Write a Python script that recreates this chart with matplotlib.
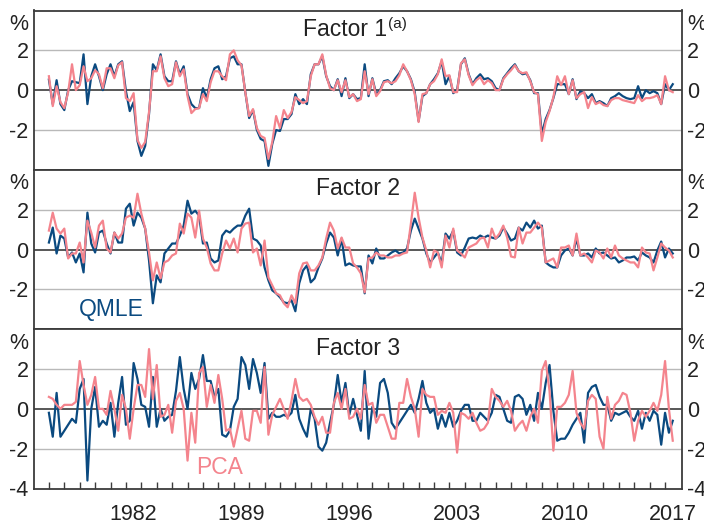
import numpy as np
import matplotlib.pyplot as plt

plt.rcParams['font.family'] = ['Liberation Sans', 'DejaVu Sans']

# quarterly factor estimates, 1977:Q1 to 2017:Q3 (per cent)
f1_qmle = [
    0.53, -0.7, 0.5, -0.7, -1.0, 0.0, 0.45, 0.4, 0.35, 1.8,
    -0.7, 0.7, 1.3, 0.7, 0.0, 0.8, 1.3, 0.7, 1.3, 1.45,
    -0.05, -1.05, -0.6, -2.55, -3.3, -2.8, -1.2, 1.3, 1.0, 1.8,
    0.7, 0.45, 0.45, 1.45, 0.8, 1.2, -0.2, -0.7, -0.9, -0.9,
    0.1, -0.4, 0.55, 1.1, 1.2, 0.55, 0.7, 1.6, 1.7, 1.3,
    1.3, -0.1, -1.4, -1.0, -2.0, -2.45, -2.55, -3.8, -2.7, -2.0,
    -2.05, -1.45, -1.45, -1.2, -0.2, -0.7, -0.45, -0.7, 0.8, 1.3,
    1.3, 1.7, 0.7, 0.2, 0.0, 0.55, -0.3, 0.6, -0.4, -0.2,
    -0.45, -0.4,
    1.3, -0.3, 0.6, -0.2, 0.0, 0.45, 0.5, 0.3, 0.6, 0.85,
    1.2, 0.95, 0.55, -0.1, -1.55, -0.3, -0.15, 0.3, 0.55, 0.85,
    1.45, 0.3, 0.7, -0.15, 0.0, 1.3, 1.6, 0.8, 0.3, 0.6,
    0.8, 0.55, 0.6, 0.45, 0.1, 0.0, 0.6, 0.85, 1.1, 1.3,
    0.95, 0.8, 0.85, 0.5, -0.15, -0.15, -2.2, -1.45, -1.0, -0.4,
    0.3, 0.3, 0.3, -0.2, 0.55, -0.45, -0.05, -0.15, -0.4, -0.2,
    -0.65, -0.55, -0.65, -0.8, -0.4, -0.3, -0.15, -0.3, -0.4, -0.45,
    -0.4, 0.2, -0.4, 0.0, -0.15, -0.05, -0.15, -0.7, 0.3, 0.0,
    0.3]
f1_pca = [
    0.7, -0.8, 0.2, -0.6, -0.9, -0.1, 1.3, 0.0, 0.25, 1.2,
    0.45, 0.6, 1.0, 0.8, 0.1, 1.1, 1.1, 0.6, 1.25, 1.4,
    -0.4, -0.55, -0.15, -2.5, -2.9, -2.6, -1.1, 0.95, 0.95, 1.7,
    0.6, 0.2, 0.3, 1.4, 0.7, 1.05, -0.3, -1.15, -0.95, -0.9,
    -0.2, -0.55, 0.4, 0.95, 0.95, 0.7, 0.5, 1.8, 2.0, 1.5,
    1.25, -0.1, -1.3, -0.95, -1.9, -2.3, -2.4, -3.45, -2.6, -1.3,
    -1.9, -1.0, -1.4, -1.1, -0.35, -0.5, -0.65, -0.55, 0.7, 1.3,
    1.3, 1.8, 0.75, 0.1, 0.0, 0.5, -0.1, 0.5, -0.35, -0.2,
    -0.55, -0.45,
    0.95, -0.2, 0.55, -0.3, -0.05, 0.4, 0.45, 0.35, 0.45, 0.75,
    1.3, 0.95, 0.5, -0.2, -1.6, -0.2, -0.15, 0.3, 0.45, 0.8,
    1.55, 0.7, 0.75, -0.1, -0.1, 1.35, 1.55, 0.75, 0.25, 0.5,
    0.65, 0.3, 0.5, 0.35, 0.0, 0.0, 0.55, 0.8, 1.0, 1.25,
    0.95, 0.85, 0.9, 0.45, -0.1, -0.2, -2.55, -1.6, -1.05, -0.35,
    0.7, 0.25, 0.7, -0.2, 0.5, -0.4, -0.2, -0.1, -0.9, -0.35,
    -0.7, -0.6, -0.75, -0.8, -0.5, -0.4, -0.4, -0.5, -0.55, -0.6,
    -0.65, -0.25, -0.55, -0.4, -0.4, -0.35, -0.25, -0.7, 0.7, 0.0,
    -0.1]

f2_qmle = [
    0.35, 1.1, -0.2, 0.7, 0.55, -0.4, -0.15, -0.65, -0.2, -1.15,
    1.85, 0.3, -0.15, 0.85, 0.95, 0.3, -0.2, 0.85, 0.35, 0.35,
    2.05, 2.3, 1.2, 1.85, 1.6, 1.05, -0.55, -2.7, -1.3, -1.65,
    -0.2, 0.05, 0.3, 0.3, 0.7, 1.2, 2.45, 1.8, 1.95, 1.7,
    0.3, 0.35, -0.45, -0.65, -0.55, 0.7, 0.95, 0.85, 1.05, 1.2,
    1.2, 1.7, 2.05, 0.55, 0.45, 0.2, -0.9, -1.55, -2.05, -2.2,
    -2.4, -2.65, -2.7, -2.55, -3.1, -1.7, -1.05, -0.8, -1.65, -1.45,
    -0.9, -0.45, 0.3, 0.85, 0.6, -0.3, 0.55, -0.8, -0.7, -0.8,
    -0.85, -0.85,
    -2.2, -0.3, -0.7, 0.05, -0.45, -0.45, -0.3, -0.15, -0.05, -0.2,
    -0.15, 0.05, 0.95, 1.55, 1.05, 0.55, -0.2, -0.65, -0.4, -0.15,
    -0.7, 0.8, 0.55, 0.95, -0.15, -0.3, 0.1, 0.55, 0.6, 0.55,
    0.7, 0.6, 0.7, 0.6, 0.55, 0.7, 1.1, 0.8, 0.45, 0.55,
    1.1, 0.95, 1.35, 1.1, 1.45, 1.05, 1.2, -0.65, -0.8, -0.9,
    -0.9, -0.3, -0.05, 0.05, -0.3, 0.55, -0.3, -0.3, -0.2, -0.4,
    0.05, -0.2, -0.15, -0.3, -0.45, -0.4, -0.65, -0.55, -0.4, -0.4,
    -0.35, -0.55, -0.15, -0.3, -0.4, -0.65, -0.05, 0.4, -0.4, 0.05,
    -0.2]
f2_pca = [
    0.95, 1.85, 1.05, 0.8, 1.05, -0.45, -0.2, -0.2, 0.35, -0.65,
    1.45, 0.85, 0.1, 1.2, 1.45, 0.05, -0.15, 0.85, 0.55, 0.8,
    1.6, 1.7, 1.6, 2.8, 1.8, 1.05, -0.15, -1.55, -0.65, -1.45,
    -0.65, -0.55, -0.3, -0.2, 1.3, 0.8, 1.8, 1.6, 0.6, 1.95,
    0.55, 0.1, -0.7, -1.05, -1.05, -0.2, 0.45, 0.05, 0.55, -0.15,
    1.05, 1.3, 1.35, -0.15, 0.05, -0.8, 0.45, -1.4, -1.8, -2.2,
    -2.3, -2.7, -2.9, -2.3, -2.7, -1.2, -0.7, -0.65, -1.05, -1.05,
    -0.8, -0.4, 0.55, 1.35, 0.95, 0.05, 0.6, 0.1, 0.1, -0.7,
    -0.9, -1.2,
    -2.15, -0.45, -0.4, -0.15, -0.3, -0.3, -0.4, -0.4, -0.3, -0.3,
    -0.2, -0.15, 1.3, 2.85, 1.6, 0.6, -0.05, -0.9, -0.05, -0.15,
    -0.9, 0.7, 0.1, 1.05, -0.05, -0.2, -0.4, 0.1, 0.2, 0.3,
    0.55, 0.6, 0.1, 1.05, 0.55, 0.8, 1.2, 0.6, -0.35, -0.4,
    1.1, 0.3, 0.85, 0.85, 1.1, 1.35, 1.1, -0.65, -0.55, -0.45,
    -0.9, 0.1, 0.1, 0.2, -0.3, 0.8, -0.3, -0.2, -0.4, -0.65,
    -0.05, -0.15, -0.45, 0.05, -0.4, 0.2, -0.3, -0.45, -0.55, -0.65,
    -0.65, -0.9, 0.1, -0.15, -0.2, -1.05, -0.4, 0.3, 0.1, -0.05,
    -0.4]

f3_qmle = [
    -0.2, -1.4, 0.8, -1.4, -1.1, -0.8, -0.5, -0.7, 1.0, 1.5,
    -3.6, 0.0, 1.1, -0.9, -0.6, -0.8, 0.3, -1.4, 0.3, 1.6,
    -0.8, -0.6, 2.3, 1.5, 0.2, 0.1, -0.9, 1.6, -0.9, 0.0,
    -0.6, -0.4, -0.3, 0.9, 2.6, 1.0, 0.0, 1.8, 1.0, 1.5,
    2.7, 1.4, 1.4, 0.6, 1.0, -1.3, -1.4, -1.1, 0.1, 0.5,
    2.6, 2.2, 1.0, 2.5, 1.8, 0.8, 2.3, -0.5, -0.2, -0.4,
    -0.4, -0.3, -0.4, -0.2, 0.7, -0.5, -1.0, -1.4, 0.0, -0.5,
    -1.9, -2.1, -1.7, -0.7, 0.2, 1.7, 0.3, 1.3, -0.3, 0.5,
    -0.3, -1.1, 1.9, -1.5, 0.1, -0.4, 1.3, 1.5, 0.8, -0.7,
    -1.0, -0.7, -0.4, -0.1, 0.2, -0.2, 0.5, 1.4, 0.3, -0.2,
    0.0, -1.0, -0.3, -0.9, -0.2, -0.9, -0.6, -0.1, 0.2, 0.2,
    -0.6, -0.6, -0.2, -0.4, -0.6, -0.2, 0.7, 0.6, 0.0, -0.6,
    -0.7, 0.6, 0.7, 0.5, -0.3, 0.2, -0.6, 0.8, 0.0, 1.3,
    2.2, -0.1, -1.6, -1.5, -1.5, -1.2, -0.8, -0.5, -0.2, -1.7,
    0.8, 1.1, 1.2, 0.6, 0.2, 0.2, -0.6, -0.2, -0.3, -0.2,
    -0.1, -0.4, -0.6, -0.1, -1.0, -0.2, -0.6, -0.1, -0.3, -1.8,
    -0.2, -1.2, -0.6]
f3_pca = [
    0.6, 0.5, 0.2, 0.0, 0.2, 0.2, 0.2, 0.35, 2.4, 1.2,
    0.2, 0.7, 1.6, 0.0, 0.0, -0.3, 0.9, 0.0, -1.1, 0.7,
    0.0, -1.5, 0.0, 1.2, 1.2, 0.6, 3.0, 0.5, 2.2, -0.4,
    -0.3, 0.2, -1.2, 0.4, 0.8, 0.0, -2.6, -0.2, -1.7, 1.8,
    2.1, 0.1, 1.2, 0.3, 1.7, 0.5, -1.1, -1.0, -1.9, -1.0,
    -0.1, -1.5, -1.6, -0.1, -0.1, -0.7, 2.1, -1.3, -0.3, 0.1,
    0.5, 0.0, -0.5, 0.4, 1.5, 0.6, 0.4, 0.5, 0.2, -0.4,
    -0.8, -0.4, -1.2, -1.2, 0.3, 0.8, 0.0, 1.0, -0.5, -0.4,
    0.0, -0.5, 1.2, 0.2, 0.3, -0.7, -0.3, -0.3, -0.9, -1.5,
    -1.5, 0.3, 0.3, 1.5, 0.6, 0.0, -1.4, 1.0, 0.7, 0.6,
    0.6, -0.3, -0.1, -0.2, 0.3, -0.2, -2.2, -0.2, -0.3, -0.5,
    -0.2, -0.7, -1.1, -1.0, -0.7, 1.0, 0.6, 0.4, 0.1, 0.4,
    -0.1, -1.1, -0.8, -0.6, -1.1, -0.4, 0.0, -0.7, 1.9, 2.4,
    0.9, -2.1, 0.1, 0.1, 0.3, 0.7, 1.9, -0.2, -0.7, -1.0,
    0.4, 0.7, 0.5, -1.4, -2.0, 0.6, -0.5, 0.2, 0.4, 0.8,
    0.7, -0.2, -1.6, -0.6, -0.1, -0.4, -0.1, 0.3, -0.1, 0.7,
    2.4, 0.0, -1.6]

titles = ['Factor 1', 'Factor 2', 'Factor 3']
year_labels = [1982, 1989, 1996, 2003, 2010, 2017]
start_year = 1977

blue = '#0b4a80'
pink = '#f4848d'
ink = '#222222'
frame = '#3c3c3c'

fig = plt.figure(figsize=(7.04, 5.26), dpi=100)
left, right = 33.5 / 704, 682 / 704
top, bottom = 1 - 10.5 / 526, 1 - 488.5 / 526
h = (top - bottom) / 3

series = [(f1_qmle, f1_pca), (f2_qmle, f2_pca), (f3_qmle, f3_pca)]
for k, (q, p) in enumerate(series):
    ax = fig.add_axes([left, top - (k + 1) * h, right - left, h])
    ax.set_xlim(1976.0, 2018.1)
    ax.set_ylim(-4, 4)

    ax.axhline(2, color='#b9b9b9', lw=1.0, zorder=1)
    ax.axhline(-2, color='#b9b9b9', lw=1.0, zorder=1)
    ax.axhline(0, color='#2a2a2a', lw=1.1, zorder=1)

    xq = start_year + np.arange(len(q)) / 4
    xp = start_year + np.arange(len(p)) / 4
    ax.plot(xq, q, color=blue, lw=1.6, zorder=3)
    ax.plot(xp, p, color=pink, lw=1.6, zorder=4)

    for s in ax.spines.values():
        s.set_color(frame)
        s.set_linewidth(1.3)

    # both sides labelled, "%" sits where the top tick would be
    yt = [-2, 0, 2] if k < 2 else [-4, -2, 0, 2]
    ax.set_yticks(yt)
    ax.set_yticklabels([str(v) for v in yt])
    ax.tick_params(axis='y', length=0, pad=3.5, labelsize=15.5,
                   labelcolor=ink, left=False, right=False,
                   labelleft=True, labelright=True)
    for xa, ha, dx in [(0, 'right', -3.5), (1, 'left', 3.5)]:
        ax.annotate('%', xy=(xa, 3.3), xycoords=('axes fraction', 'data'),
                    xytext=(dx, 0), textcoords='offset points',
                    ha=ha, va='center', fontsize=15.5, color=ink)

    tx = 0.48 if k == 0 else 0.5
    t = ax.text(tx, 3.05, titles[k], transform=ax.get_yaxis_transform(),
                ha='center', va='center', fontsize=16.5, color=ink)
    if k == 0:
        ax.annotate('(a)', xy=(1, 1), xycoords=t, xytext=(1, 1),
                    textcoords='offset points', ha='left', va='top',
                    fontsize=11, color=ink)

    if k < 2:
        ax.set_xticks([])
    else:
        ax.set_xticks(np.arange(1977, 2018))
        ax.set_xticklabels([])
        ax.tick_params(axis='x', which='major', direction='in', length=5,
                       width=1, color=frame, top=False)
        ax.set_xticks([y + 0.5 for y in year_labels], minor=True)
        ax.set_xticklabels([str(y) for y in year_labels], minor=True)
        ax.tick_params(axis='x', which='minor', length=0, pad=11,
                       labelsize=15.5, labelcolor=ink)

    if k == 1:
        ax.text(1981.05, -3.0, 'QMLE', color=blue, fontsize=16.5,
                ha='center', va='center')
    if k == 2:
        ax.text(1988.1, -2.93, 'PCA', color=pink, fontsize=16.5,
                ha='center', va='center')

fig.savefig('out.png', dpi=100)
